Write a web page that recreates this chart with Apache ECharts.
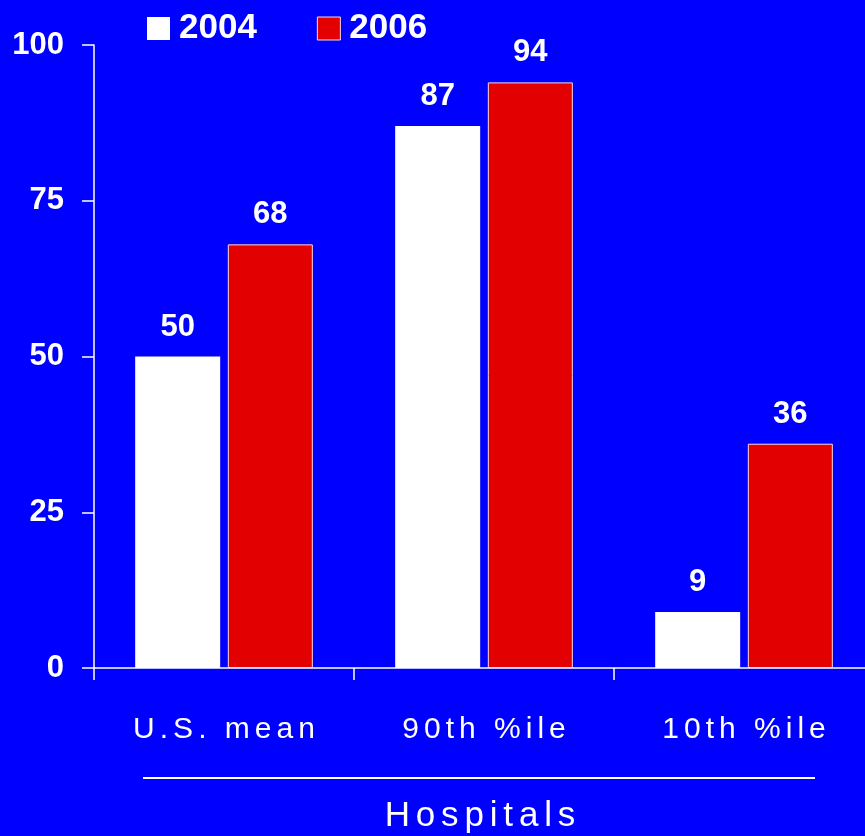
<!DOCTYPE html>
<html>
<head>
<meta charset="utf-8">
<script src="https://cdn.jsdelivr.net/npm/echarts@6/dist/echarts.min.js"></script>
<style>
  html, body { margin: 0; padding: 0; background: #0000ff; }
  #chart { width: 865px; height: 836px; }
</style>
</head>
<body>
<div id="chart"></div>
<script>
// Hospital scores by group, 2004 vs 2006
const categories = ['U.S. mean', '90th %ile', '10th %ile'];
const values2004 = [50, 87, 9];
const values2006 = [68, 94, 36];
const yTicks = [0, 25, 50, 75, 100];
const axisTitle = 'Hospitals';

const WHITE = '#ffffff';
const RED = '#e20000';
const FONT = '"Liberation Sans", Arial, sans-serif';

// widen text by placing hair spaces between glyphs
const spaced = s => s.split('').join('\u200A\u200A');

const chart = echarts.init(document.getElementById('chart'), null, { renderer: 'canvas' });

const valueLabel = {
  show: true,
  position: 'top',
  distance: 14,
  color: WHITE,
  fontFamily: FONT,
  fontWeight: 'bold',
  fontSize: 31
};

chart.setOption({
  backgroundColor: '#0000ff',
  animation: false,
  grid: {
    left: 94, top: 45, width: 780, height: 623,
    containLabel: false,
    outerBoundsMode: 'none'
  },
  legend: {
    left: 142,
    top: 6,
    itemWidth: 23,
    itemHeight: 23,
    itemGap: 60,
    icon: 'rect',
    textStyle: {
      color: WHITE,
      fontFamily: FONT,
      fontWeight: 'bold',
      fontSize: 35,
      padding: [0, 0, 0, 4]
    },
    data: [
      { name: '2004', itemStyle: { color: WHITE } },
      { name: '2006', itemStyle: { color: RED, borderColor: '#ffd8d8', borderWidth: 1 } }
    ]
  },
  xAxis: {
    type: 'category',
    data: categories,
    axisLine: { lineStyle: { color: WHITE, width: 1.5 } },
    axisTick: { show: true, length: 12, lineStyle: { color: WHITE, width: 1.5 } },
    axisLabel: {
      color: WHITE,
      fontFamily: FONT,
      fontSize: 30,
      margin: 47,
      formatter: v => spaced(v)
    },
    splitLine: { show: false }
  },
  yAxis: {
    type: 'value',
    min: yTicks[0],
    max: yTicks[yTicks.length - 1],
    interval: 25,
    axisLine: { show: true, lineStyle: { color: WHITE, width: 1.5 } },
    axisTick: { show: true, length: 12, lineStyle: { color: WHITE, width: 1.5 } },
    axisLabel: {
      color: WHITE,
      fontFamily: FONT,
      fontWeight: 'bold',
      fontSize: 31,
      margin: 30
    },
    splitLine: { show: false }
  },
  series: [
    {
      name: '2004',
      type: 'bar',
      data: values2004,
      barWidth: 85,
      barGap: '9%',
      itemStyle: { color: WHITE },
      label: valueLabel
    },
    {
      name: '2006',
      type: 'bar',
      data: values2006,
      barWidth: 85,
      itemStyle: { color: RED, borderColor: '#ffd8d8', borderWidth: 1 },
      label: valueLabel
    }
  ],
  graphic: [
    {
      type: 'line',
      shape: { x1: 143, y1: 778, x2: 815, y2: 778 },
      style: { stroke: WHITE, lineWidth: 2 }
    },
    {
      type: 'text',
      x: 480,
      y: 816,
      style: {
        text: spaced(axisTitle),
        fill: WHITE,
        font: '35px ' + FONT,
        textAlign: 'center',
        textVerticalAlign: 'middle'
      }
    }
  ]
});
</script>
</body>
</html>
